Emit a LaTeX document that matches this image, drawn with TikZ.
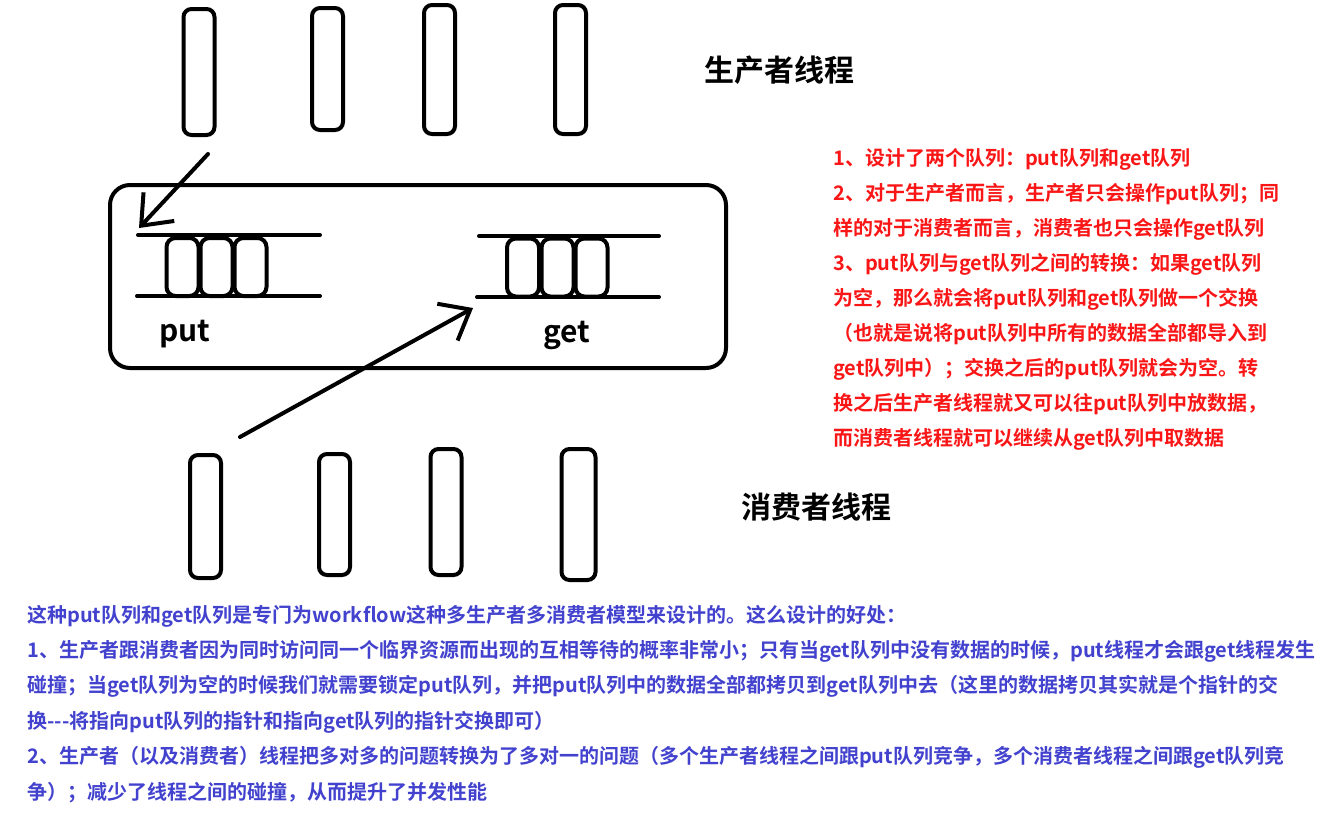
\documentclass[tikz,border=0pt]{standalone}
\usepackage{fontspec}
\setmainfont{Noto Sans CJK SC}[UprightFont=* Bold]
\usepackage{xcolor}
\usetikzlibrary{arrows.meta,positioning}
\definecolor{notered}{RGB}{250,22,22}
\definecolor{noteblue}{RGB}{66,66,206}

\begin{document}
\begin{tikzpicture}[x=1pt,y=-1pt,
  thread/.style={draw, line width=4pt, rounded corners=8pt, minimum width=31pt, inner sep=0pt},
  cell/.style={draw, line width=4pt, rounded corners=9pt, minimum width=32pt, minimum height=58pt, inner sep=0pt},
  rail/.style={line width=4pt, line cap=round},
  ptr/.style={line width=4pt, line cap=round, -{Straight Barb[length=26pt,width=42pt]}},
  title/.style={font=\fontsize{30}{36}\selectfont, inner sep=0pt},
  qlabel/.style={font=\fontsize{30}{36}\selectfont, anchor=base, inner sep=0pt},
  redtxt/.style={text=notered, font=\fontsize{20}{24}\selectfont, anchor=base west, inner sep=0pt},
  bluetxt/.style={text=noteblue, font=\fontsize{20}{24}\selectfont, anchor=base west, inner sep=0pt}]
\useasboundingbox (0,0) rectangle (1343,817);

% producer threads (top row)
\node[thread, minimum height=126pt] (p1) at (199,72) {};
\node[thread, minimum height=122pt] (p2) at (327.5,69) {};
\node[thread, minimum height=129pt] (p3) at (439.5,69.5) {};
\node[thread, minimum height=129pt] (p4) at (570.5,69.5) {};
\node[title] (prod) at (779,70) {生产者线程};

% consumer threads (bottom row)
\node[thread, minimum height=123pt] (c1) at (205.5,516.5) {};
\node[thread, minimum height=121pt] (c2) at (334.5,514.5) {};
\node[thread, minimum height=126pt] (c3) at (446,512) {};
\node[thread, minimum height=131pt, minimum width=34pt] (c4) at (578.5,514.5) {};
\node[title] (cons) at (816,507) {消费者线程};

% container with the two queues
\node[draw, line width=4pt, rounded corners=20pt, minimum width=616pt, minimum height=183pt] (pool) at (418,276.5) {};

% put queue
\draw[rail] (138,235) -- (320,235);
\draw[rail] (137,296) -- (320,296);
\node[cell] (put1) at (182.5,267) {};
\node[cell] (put2) at (216.5,267) {};
\node[cell] (put3) at (250.5,267) {};
\node[qlabel] (putlbl) at (185,341) {put};

% get queue
\draw[rail] (479,236) -- (659,236);
\draw[rail] (477,297) -- (659,297);
\node[cell] (get1) at (523,267.5) {};
\node[cell] (get2) at (557.5,267.5) {};
\node[cell] (get3) at (591.5,267.5) {};
\node[qlabel] (getlbl) at (567,342) {get};

% pointers
\coordinate (inS) at (208,154);
\coordinate (inE) at (139,228);
\coordinate (outS) at (240,437);
\coordinate (outE) at (473,308);
\draw[ptr] (inS) -- (inE);
\draw[ptr] (outS) -- (outE);

% notes on the right
\foreach \ln [count=\i from 0] in {
  {1、设计了两个队列：put队列和get队列},
  {2、对于生产者而言，生产者只会操作put队列；同},
  {样的对于消费者而言，消费者也只会操作get队列},
  {3、put队列与get队列之间的转换：如果get队列},
  {为空，那么就会将put队列和get队列做一个交换},
  {（也就是说将put队列中所有的数据全部都导入到},
  {get队列中）；交换之后的put队列就会为空。转},
  {换之后生产者线程就又可以往put队列中放数据，},
  {而消费者线程就可以继续从get队列中取数据}}
  \node[redtxt] (red\i) at (833,165+35*\i) {\ln};

% notes at the bottom
\foreach \ln [count=\i from 0] in {
  {这种put队列和get队列是专门为workflow这种多生产者多消费者模型来设计的。这么设计的好处：},
  {1、生产者跟消费者因为同时访问同一个临界资源而出现的互相等待的概率非常小；只有当get队列中没有数据的时候，put线程才会跟get线程发生},
  {碰撞；当get队列为空的时候我们就需要锁定put队列，并把put队列中的数据全部都拷贝到get队列中去（这里的数据拷贝其实就是个指针的交},
  {换-{}-{}-将指向put队列的指针和指向get队列的指针交换即可）},
  {2、生产者（以及消费者）线程把多对多的问题转换为了多对一的问题（多个生产者线程之间跟put队列竞争，多个消费者线程之间跟get队列竞},
  {争）；减少了线程之间的碰撞，从而提升了并发性能}}
  \node[bluetxt] (blue\i) at (27,622+35.4*\i) {\ln};
\end{tikzpicture}
\end{document}
